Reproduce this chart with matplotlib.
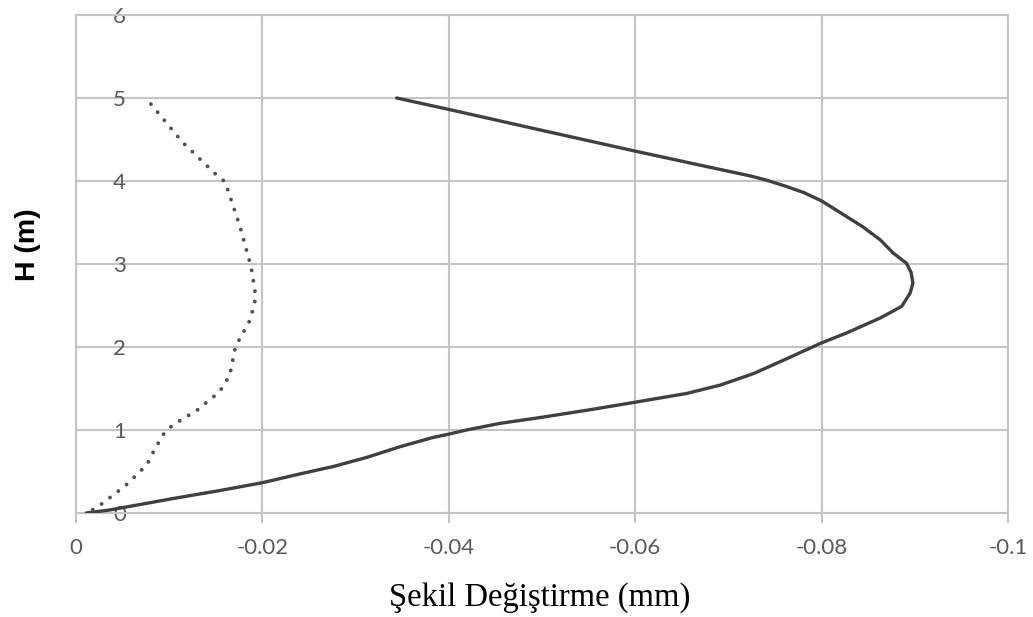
import matplotlib
matplotlib.use('Agg')
import matplotlib.pyplot as plt

# solid curve
solid_x = [-0.0011, -0.0036, -0.0107, -0.0154, -0.0200, -0.0240, -0.0276, -0.0312,
           -0.0348, -0.0383, -0.0400, -0.0419, -0.0455, -0.0498, -0.0552,
           -0.0600, -0.0655, -0.0691, -0.0727, -0.0755, -0.0800, -0.0827, -0.0863,
           -0.0886, -0.0895, -0.0898, -0.0896, -0.0891, -0.0877, -0.0863, -0.0844,
           -0.0800, -0.0781, -0.0762, -0.0741, -0.0724, -0.0670, -0.0600, -0.0500,
           -0.0401, -0.0344]
solid_y = [0.00, 0.036, 0.18, 0.27, 0.365, 0.47, 0.56, 0.67,
           0.80, 0.91, 0.95, 1.00, 1.08, 1.15, 1.245,
           1.335, 1.44, 1.54, 1.68, 1.82, 2.05, 2.17, 2.35,
           2.49, 2.65, 2.77, 2.90, 3.01, 3.13, 3.29, 3.45,
           3.76, 3.86, 3.935, 4.01, 4.06, 4.19, 4.36, 4.61,
           4.86, 5.00]

# dotted curve
dot_x = [-0.0018, -0.0029, -0.0054, -0.0076, -0.0085, -0.0095, -0.0104, -0.0130,
         -0.0154, -0.0165, -0.0171, -0.0187, -0.0193, -0.0188, -0.0176, -0.0160,
         -0.0151, -0.0114, -0.0075]
dot_y = [0.04, 0.12, 0.34, 0.58, 0.78, 0.97, 1.06, 1.24,
         1.46, 1.66, 2.00, 2.33, 2.60, 2.96, 3.45, 3.99,
         4.07, 4.47, 5.00]

x_ticks = [0, -0.02, -0.04, -0.06, -0.08, -0.1]
x_labels = ['0', '-0.02', '-0.04', '-0.06', '-0.08', '-0.1']
y_ticks = [0, 1, 2, 3, 4, 5, 6]

fig = plt.figure(figsize=(10.33, 6.17), dpi=100)
ax = fig.add_axes([76 / 1033, 1 - 513 / 617, 932 / 1033, 498 / 617])

grid_c = '#c4c4c4'
ax.plot(solid_x, solid_y, color='#404040', lw=2.4, solid_capstyle='round',
        solid_joinstyle='round', zorder=3)
ax.plot(dot_x, dot_y, color='#505050', lw=2.8, linestyle=(0, (0.01, 2.7)),
        dash_capstyle='round', zorder=3)

ax.set_xlim(0, -0.1)
ax.set_ylim(0, 6)
ax.set_xticks(x_ticks)
ax.set_xticklabels(x_labels)
ax.set_yticks(y_ticks)
ax.grid(True, color=grid_c, lw=1.5)
ax.set_axisbelow(True)
for s in ax.spines.values():
    s.set_color(grid_c)
    s.set_linewidth(1.5)

ax.tick_params(axis='x', length=7, width=1.5, color=grid_c, pad=11,
               labelsize=16, labelcolor='#595959')
ax.tick_params(axis='y', length=0, pad=-36, labelsize=16, labelcolor='#595959')
for t in ax.get_xticklabels() + ax.get_yticklabels():
    t.set_fontfamily('Lato')
for t in ax.get_yticklabels():
    t.set_horizontalalignment('right')
    t.set_zorder(4)

fig.text(28 / 1033, 1 - 245 / 617, 'H (m)', rotation=90, ha='center', va='center',
         fontsize=20.5, fontweight='bold', family='Liberation Sans')
fig.text(540 / 1033, 1 - 598 / 617, 'Şekil Değiştirme (mm)', ha='center', va='center',
         fontsize=23.5, family='Liberation Serif')

fig.savefig('out.png', dpi=100)
